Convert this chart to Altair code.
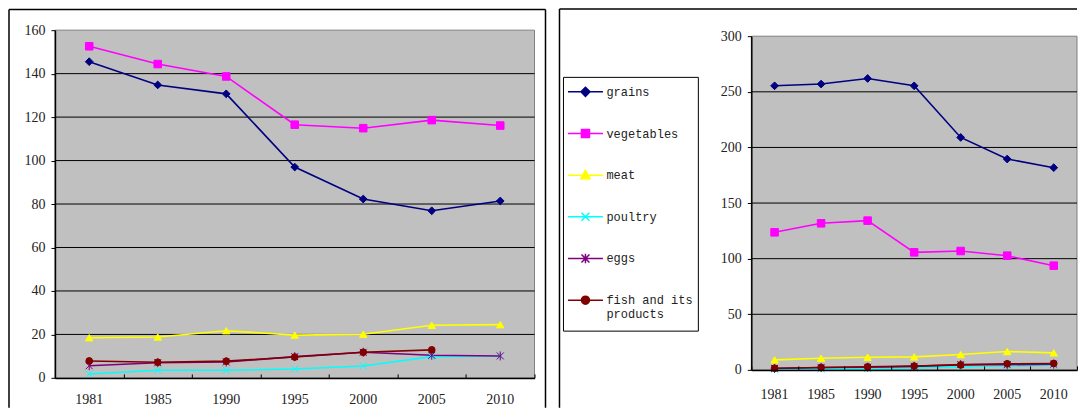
import altair as alt
import pandas as pd

years = ["1981", "1985", "1990", "1995", "2000", "2005", "2010"]
series = ["grains", "vegetables", "meat", "poultry", "eggs", "fish and its products"]
colors = ["#000080", "#FF00FF", "#FFFF00", "#00FFFF", "#800080", "#800000"]

# left panel values
left_grains = [145.5, 134.8, 130.7, 97.0, 82.3, 76.9, 81.4]
left_vegetables = [152.6, 144.4, 138.7, 116.5, 114.9, 118.6, 116.1]
left_meat = [18.5, 18.8, 21.7, 19.7, 20.1, 24.2, 24.5]
left_poultry = [1.8, 3.5, 3.5, 4.1, 5.5, 9.8, 10.1]
left_eggs = [5.6, 7.0, 7.3, 9.8, 11.8, 10.4, 10.1]
left_fish = [7.8, 7.2, 7.7, 9.6, 11.8, 12.9, None]

# right panel values
right_grains = [255.4, 257.0, 262.0, 255.4, 209.0, 189.6, 181.8]
right_vegetables = [123.7, 131.8, 134.2, 105.7, 106.9, 102.7, 93.7]
right_meat = [9.0, 10.5, 11.4, 11.7, 13.8, 16.5, 15.3]
right_poultry = [0.7, 1.0, 1.3, 1.8, 2.8, 3.7, 4.2]
right_eggs = [1.3, 2.1, 2.4, 3.2, 4.8, 4.7, 5.1]
right_fish = [1.5, 2.2, 2.8, 3.4, 4.5, 5.5, 5.8]

left_ticks = [0, 20, 40, 60, 80, 100, 120, 140, 160]
right_ticks = [0, 50, 100, 150, 200, 250, 300]

X_PATH = "M-1,-1L1,1M-1,1L1,-1"
AST_PATH = "M-1,-1L1,1M-1,1L1,-1M0,-1.3L0,1.3"
shapes = ["diamond", "square", "triangle-up", X_PATH, AST_PATH, "circle"]
sizes = [60, 45, 55, 40, 40, 45]

# legend symbol: a 35 px line with the marker in its middle
LEG_SYM_SIZE = 26.5 ** 2
U = 26.5 / 2  # px per path unit


def marker_paths(dy_px, top_px, bottom_px):
    def t(x, y):
        return f"{x / U:.3f},{(y + dy_px) / U:.3f}"
    pad = f"M0,{top_px / U:.3f}M0,{bottom_px / U:.3f}"
    line = f"M{t(-17.5, 0)}L{t(17.5, 0)}"
    r = 4.5
    diamond = f"M{t(0, -r)}L{t(r, 0)}L{t(0, r)}L{t(-r, 0)}Z"
    q = 4.0
    square = f"M{t(-q, -q)}L{t(q, -q)}L{t(q, q)}L{t(-q, q)}Z"
    tri = f"M{t(0, -4.9)}L{t(4.7, 3.5)}L{t(-4.7, 3.5)}Z"
    xs = f"M{t(-q, -q)}L{t(q, q)}M{t(-q, q)}L{t(q, -q)}"
    ast = xs + f"M{t(0, -4.7)}L{t(0, 4.7)}"
    qq = q / U
    circ = f"M{t(-q, 0)}A{qq:.3f},{qq:.3f},0,1,1,{t(q, 0)}A{qq:.3f},{qq:.3f},0,1,1,{t(-q, 0)}Z"
    return [pad + line + m for m in (diamond, square, tri, xs, ast, circ)]


legend_paths = marker_paths(-4.0, -13.0, 18.0)


def long_df(cols):
    rows = []
    for s, vals in zip(series, cols):
        for y, v in zip(years, vals):
            rows.append({"year": y, "series": s, "value": v})
    return pd.DataFrame(rows)


left_df = long_df([left_grains, left_vegetables, left_meat, left_poultry, left_eggs, left_fish])
right_df = long_df([right_grains, right_vegetables, right_meat, right_poultry, right_eggs, right_fish])

AX_FONT = "Liberation Serif"
LEG_FONT = "Liberation Mono"
TXT = "#222222"
ONE = pd.DataFrame({"k": [0]})


def rules(specs):
    out = []
    for sp in specs:
        enc = {k: alt.value(v) for k, v in sp.items()}
        out.append(alt.Chart(ONE).mark_rule(color="#000000", strokeWidth=1.5).encode(**enc))
    return out


def panel(df, W, H, yrange, ticks, label_pad, frame, legend_y=None):
    ymax = ticks[-1]
    xscale = alt.Scale(type="band", paddingInner=0, paddingOuter=0, domain=years)
    yscale = alt.Scale(domain=[0, ymax], nice=False, range=yrange)
    yaxis = alt.Axis(
        values=ticks, title=None, grid=False, zindex=1,
        domainColor="#000000", domainWidth=1.5, tickColor="#000000",
        tickSize=4, labelPadding=6, labelFont=AX_FONT, labelFontSize=14, labelColor=TXT,
    )
    color_scale = alt.Scale(domain=series, range=colors)
    base = alt.Chart(df)

    bg = alt.Chart(pd.DataFrame({"top": [ymax], "bot": [0]})).mark_rect(
        fill="#C0C0C0", stroke="#808080", strokeWidth=1
    ).encode(
        x=alt.value(0), x2=alt.value(W),
        y=alt.Y("top:Q", scale=yscale, axis=yaxis), y2="bot:Q",
    )
    grid = alt.Chart(pd.DataFrame({"tick": ticks[1:-1]})).mark_rule(
        color="#000000", strokeWidth=1
    ).encode(y=alt.Y("tick:Q", scale=yscale, axis=yaxis))

    lines = base.mark_line(strokeWidth=1.6).encode(
        x=alt.X("year:O", scale=xscale, bandPosition=0.5,
                axis=alt.Axis(title=None, ticks=False, domainColor="#000000", domainWidth=1.5,
                              labelAngle=0, labelPadding=label_pad, labelFont=AX_FONT,
                              labelFontSize=14, labelColor=TXT, zindex=1)),
        y=alt.Y("value:Q", scale=yscale, axis=yaxis),
        stroke=alt.Stroke("series:N", scale=color_scale, legend=None),
    )
    points = base.mark_point(filled=True, opacity=1, strokeWidth=1).encode(
        x=alt.X("year:O", scale=xscale, bandPosition=0.5,
                axis=alt.Axis(orient="top", offset=-H, labels=False, domain=False, ticks=True,
                              tickBand="extent", tickSize=4, tickColor="#000000", title=None,
                              zindex=1)),
        y=alt.Y("value:Q", scale=yscale, axis=yaxis),
        fill=alt.Fill("series:N", scale=color_scale, legend=None),
        stroke=alt.Stroke("series:N", scale=color_scale, legend=None),
        shape=alt.Shape("series:N", scale=alt.Scale(domain=series, range=shapes), legend=None),
        size=alt.Size("series:N", scale=alt.Scale(domain=series, range=sizes), legend=None),
    )
    layers = rules(frame) + [bg, grid, lines, points]
    if legend_y is not None:
        leg = dict(
            title=None, orient="none", legendX=-188.5, legendY=legend_y, direction="vertical",
            padding=5, strokeColor="#000000", fillColor="#FFFFFF",
            labelFont=LEG_FONT, labelFontSize=12, labelColor=TXT, labelOffset=7,
            labelBaseline="alphabetic", symbolOffset=3.5,
            labelExpr="datum.label == 'fish and its products' ? ['fish and its', 'products'] : datum.label",
            symbolSize=LEG_SYM_SIZE, symbolStrokeWidth=1.5, rowPadding=4.7, labelLimit=300,
        )
        dummy = base.transform_filter("false").mark_point(filled=True, opacity=1).encode(
            shape=alt.Shape("series:N", scale=alt.Scale(domain=series, range=legend_paths),
                            legend=alt.Legend(**leg)),
            fill=alt.Fill("series:N", scale=color_scale, legend=alt.Legend(**leg)),
            stroke=alt.Stroke("series:N", scale=color_scale, legend=alt.Legend(**leg)),
        )
        layers.append(dummy)
    ch = alt.layer(*layers).resolve_axis(x="independent")
    if legend_y is not None:
        ch = ch.resolve_scale(shape="independent", fill="independent", stroke="independent",
                              size="independent")
    return ch.properties(width=W, height=H)


# both panels share the same origin row; plot tops differ through the y range
Y0 = 29.95
W1, H1 = 480, 378 - Y0
left_frame = [
    {"x": -46, "y": -20.75, "y2": 408 - Y0},
    {"x": -46, "x2": 491, "y": -20.75},
    {"x": 491, "y": -20.75, "y2": 408 - Y0},
]
W2, H2 = 326, 370 - Y0
right_frame = [
    {"x": -192, "y": 8.8 - Y0, "y2": 408 - Y0},
    {"x": -192, "x2": W2, "y": 8.8 - Y0},
]

left = panel(left_df, W1, H1, [H1, 0], left_ticks, 14.5, left_frame)
right = panel(right_df, W2, H2, [H2, 36 - Y0], right_ticks, 17.3, right_frame,
              legend_y=76.7 - Y0)

chart = alt.hconcat(left, right, spacing=12, padding=0).configure_view(
    fill=None, stroke=None
)

chart.save("out.html", embed_options={"renderer": "svg", "actions": False})
